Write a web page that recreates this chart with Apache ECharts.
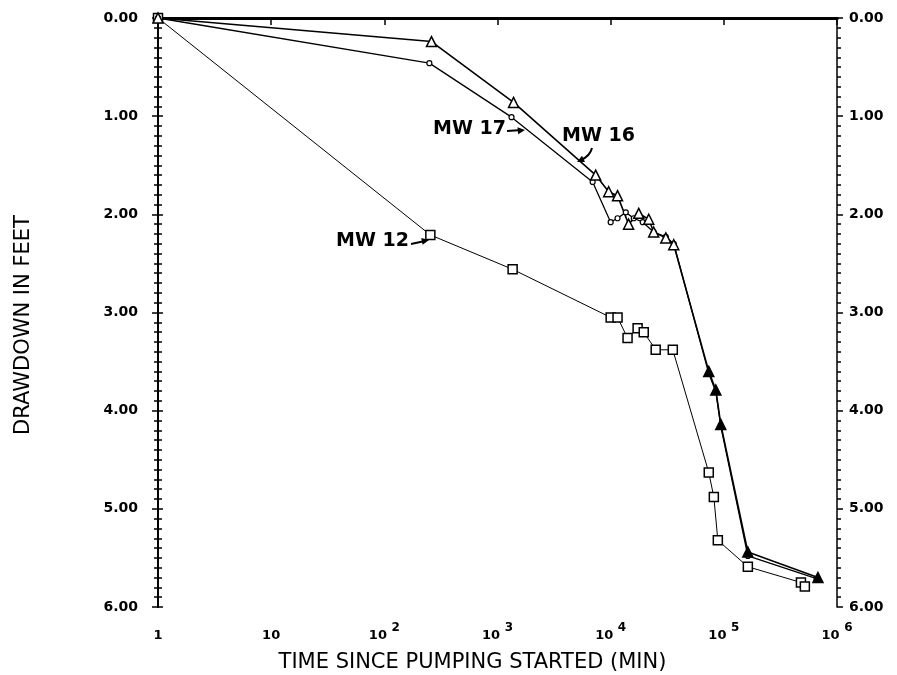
<!DOCTYPE html>
<html>
<head>
<meta charset="utf-8">
<title>Drawdown vs time</title>
<script src="https://cdn.jsdelivr.net/npm/echarts@6/dist/echarts.min.js"></script>
<style>
  html, body { margin: 0; padding: 0; background: #fff; }
  #chart { width: 897px; height: 675px; }
</style>
</head>
<body>
<div id="chart"></div>
<script>
// values (time in minutes, drawdown in feet)
const mw16Time = [1, 261, 1386, 7370, 9600, 11500, 14400, 17700, 21700, 24000, 30700, 36100, 73600, 85000, 94000, 163000, 679000]
const mw16Draw = [0, 0.24, 0.86, 1.60, 1.77, 1.81, 2.10, 1.99, 2.05, 2.18, 2.24, 2.31, 3.60, 3.79, 4.14, 5.44, 5.70]

const mw17Time = [1, 250, 1330, 6930, 10000, 11500, 13600, 16000, 19200, 24000, 30700, 36100, 73600, 85000, 94000, 163000, 660000]
const mw17Draw = [0, 0.46, 1.01, 1.67, 2.08, 2.04, 1.98, 2.04, 2.08, 2.18, 2.23, 2.30, 3.62, 3.81, 4.16, 5.48, 5.71]

const mw12Time = [1, 255, 1360, 10000, 11500, 14100, 17300, 19600, 25000, 35400, 73600, 81600, 88500, 163000, 480000, 520000]
const mw12Draw = [0, 2.21, 2.56, 3.05, 3.05, 3.26, 3.16, 3.20, 3.38, 3.38, 4.63, 4.88, 5.32, 5.59, 5.75, 5.79]

const yTicks = [0, 1, 2, 3, 4, 5, 6]

const FONT = 'DejaVu Sans'

function pairs(xs, ys) {
  return xs.map((x, i) => [x, ys[i]])
}

function arrowHead(x, y, angle, size) {
  // small filled triangle pointing along angle (radians)
  const s = size || 7
  const a1 = angle + Math.PI - 0.45
  const a2 = angle + Math.PI + 0.45
  return {
    type: 'polygon',
    shape: { points: [[x, y], [x + s * Math.cos(a1), y + s * Math.sin(a1)], [x + s * Math.cos(a2), y + s * Math.sin(a2)]] },
    style: { fill: '#000' }
  }
}

const chart = echarts.init(document.getElementById('chart'))

const yLabel = {
  color: '#000',
  fontFamily: FONT,
  fontWeight: 'bold',
  fontSize: 14,
  formatter: v => (yTicks.indexOf(v) >= 0 ? v.toFixed(2) : '')
}

const yBase = {
  type: 'value',
  inverse: true,
  min: 0,
  max: 6,
  interval: 1,
  splitLine: { show: false },
  minorTick: { show: true, splitNumber: 10, length: 4, lineStyle: { color: '#000', width: 1.5 } },
  minorSplitLine: { show: false }
}

chart.setOption({
  animation: false,
  grid: { left: 158, right: 60, top: 18, bottom: 68, containLabel: false, outerBoundsMode: 'none' },
  xAxis: [{
    type: 'log',
    logBase: 10,
    min: 1,
    max: 1000000,
    position: 'bottom',
    name: 'TIME SINCE PUMPING STARTED (MIN)',
    nameLocation: 'middle',
    nameGap: 45,
    nameTextStyle: { color: '#000', fontFamily: FONT, fontSize: 21, padding: [0, 50, 0, 0] },
    axisLine: { lineStyle: { color: '#000', width: 3 } },
    axisTick: { length: 7, lineStyle: { color: '#000', width: 1.5 } },
    splitLine: { show: false },
    axisLabel: {
      margin: 15,
      color: '#000',
      fontFamily: FONT,
      fontWeight: 'bold',
      fontSize: 13,
      formatter: v => {
        const e = Math.round(Math.log10(v))
        if (e === 0) return '{sup| }{b|1}{sup| }'
        if (e === 1) return '{sup| }{b|10}{sup| }'
        return '{b|10 }{sup|' + e + '}'
      },
      rich: {
        b: { fontFamily: FONT, fontWeight: 'bold', fontSize: 13, color: '#000', verticalAlign: 'bottom' },
        sup: { fontFamily: FONT, fontWeight: 'bold', fontSize: 12, color: '#000', verticalAlign: 'bottom', padding: [0, 0, 8, 0] }
      }
    }
  }, {
    type: 'log',
    logBase: 10,
    min: 1,
    max: 1000000,
    position: 'top',
    axisLine: { lineStyle: { color: '#000', width: 3 } },
    axisTick: { show: false },
    axisLabel: { show: false },
    splitLine: { show: false }
  }],
  yAxis: [Object.assign({}, yBase, {
    position: 'left',
    name: 'DRAWDOWN IN FEET',
    nameLocation: 'middle',
    nameGap: 124,
    nameRotate: 90,
    nameTextStyle: { color: '#000', fontFamily: FONT, fontSize: 21, padding: [0, 25, 0, 0] },
    axisLine: { lineStyle: { color: '#000', width: 2 } },
    axisTick: { length: 6, lineStyle: { color: '#000', width: 1.5 } },
    axisLabel: Object.assign({ margin: 20 }, yLabel)
  }), Object.assign({}, yBase, {
    position: 'left',
    axisLine: { lineStyle: { color: '#000', width: 2 } },
    axisTick: { inside: true, length: 5, lineStyle: { color: '#000', width: 1.5 } },
    axisLabel: { show: false }
  }), Object.assign({}, yBase, {
    position: 'right',
    axisLine: { lineStyle: { color: '#000', width: 1.5 } },
    axisTick: { length: 6, lineStyle: { color: '#000', width: 1.5 } },
    axisLabel: Object.assign({ margin: 12 }, yLabel)
  })],
  series: [{
    name: 'MW 12',
    type: 'line',
    data: pairs(mw12Time, mw12Draw),
    symbol: 'rect',
    symbolSize: 9,
    lineStyle: { color: '#000', width: 1 },
    itemStyle: { color: '#fff', borderColor: '#000', borderWidth: 1.5 }
  }, {
    name: 'MW 17',
    type: 'line',
    data: pairs(mw17Time, mw17Draw),
    symbol: 'circle',
    symbolSize: 5,
    lineStyle: { color: '#000', width: 1.3 },
    itemStyle: { color: '#fff', borderColor: '#000', borderWidth: 1.2 }
  }, {
    name: 'MW 16',
    type: 'line',
    data: pairs(mw16Time, mw16Draw).map(p => p[0] >= 70000
      ? { value: p, itemStyle: { color: '#000' } }
      : { value: p }),
    symbol: 'triangle',
    symbolSize: 10,
    lineStyle: { color: '#000', width: 1.6 },
    itemStyle: { color: '#fff', borderColor: '#000', borderWidth: 1.5 }
  }],
  graphic: [
    { type: 'text', left: 433, top: 120, style: { text: 'MW 17', fill: '#000', font: 'bold 19px "DejaVu Sans"' } },
    { type: 'line', shape: { x1: 507, y1: 131, x2: 522, y2: 130 }, style: { stroke: '#000', lineWidth: 2 } },
    arrowHead(525, 130, -0.1, 8),
    { type: 'text', left: 562, top: 127, style: { text: 'MW 16', fill: '#000', font: 'bold 19px "DejaVu Sans"' } },
    { type: 'bezierCurve', shape: { x1: 592, y1: 148, cpx1: 590, cpy1: 156, x2: 581, y2: 160 }, style: { stroke: '#000', lineWidth: 2, fill: null } },
    arrowHead(577, 162, 2.7, 8),
    { type: 'text', left: 336, top: 232, style: { text: 'MW 12', fill: '#000', font: 'bold 19px "DejaVu Sans"' } },
    { type: 'line', shape: { x1: 411, y1: 244, x2: 425, y2: 241 }, style: { stroke: '#000', lineWidth: 2 } },
    arrowHead(429, 240, -0.2, 8)
  ]
})
</script>
</body>
</html>
